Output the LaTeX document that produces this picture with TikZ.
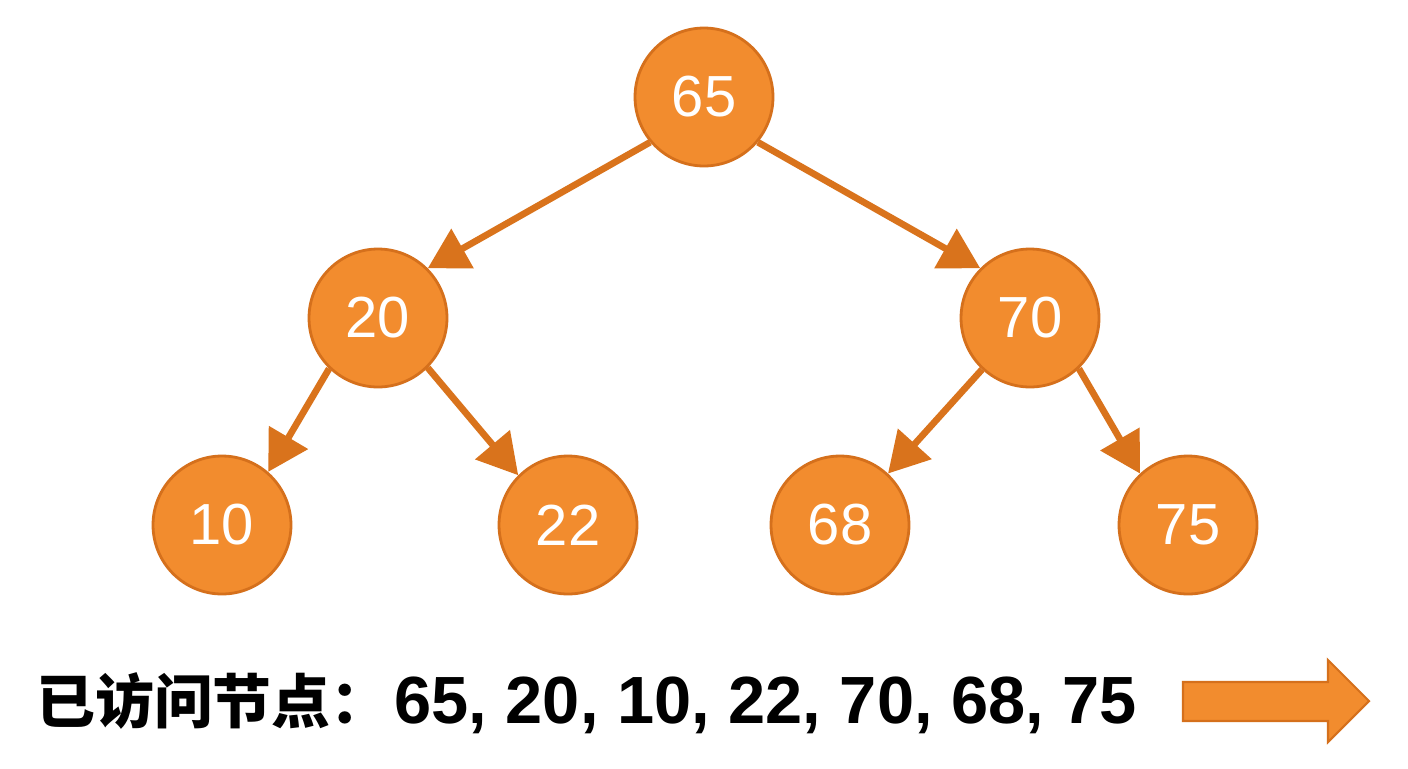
\documentclass[tikz,border=0pt]{standalone}
\usepackage{fontspec}
\setmainfont{Liberation Sans}
\newfontfamily\cjk{Noto Sans CJK SC}
\usetikzlibrary{arrows.meta}
\definecolor{nodefill}{HTML}{F28C2E}
\definecolor{nodeedge}{HTML}{D5701C}
\definecolor{edgecol}{HTML}{D9731C}
\tikzset{
  treenode/.style={circle, fill=nodefill, draw=nodeedge, line width=1.6pt,
    minimum size=2.76cm, inner sep=0pt, text=white,
    font=\fontsize{33}{33}\selectfont},
  treeedge/.style={draw=edgecol, line width=3.8pt,
    -{Triangle[length=0.8cm,width=0.88cm]}, shorten >=0pt},
}
\begin{document}
\begin{tikzpicture}[x=0.02cm,y=-0.02cm]
\useasboundingbox (0,0) rectangle (1408,768);
\fill[white] (0,0) rectangle (1408,768);
\node[treenode] (n65) at (704,97) {65};
\node[treenode] (n20) at (378,318) {20};
\node[treenode] (n70) at (1030,318) {70};
\node[treenode] (n10) at (222,525) {10};
\node[treenode] (n22) at (568,525) {22};
\node[treenode] (n68) at (840,525) {68};
\node[treenode] (n75) at (1188,525) {75};
\draw[treeedge] (n65.220) -- (n20.45);
\draw[treeedge] (n65.-40) -- (n70.135);
\draw[treeedge] (n20.226) -- (n10.49);
\draw[treeedge] (n20.-45) -- (n22.135);
\draw[treeedge] (n70.227) -- (n68.47);
\draw[treeedge] (n70.-46) -- (n75.133);
\node[anchor=west, inner sep=0pt, font=\fontsize{38}{38}\selectfont\bfseries] (visited) at (36,703)
  {{\cjk\fontsize{33.5}{33.5}\selectfont\bfseries 已访问节点：}\hspace{0.1cm}65, 20, 10, 22, 70, 68, 75};
\filldraw[fill=nodefill, draw=nodeedge, line width=1.2pt, line join=miter]
  (1183,682) -- (1328,682) -- (1328,660) -- (1369,701) -- (1328,742) -- (1328,721) -- (1183,721) -- cycle;
\end{tikzpicture}
\end{document}
